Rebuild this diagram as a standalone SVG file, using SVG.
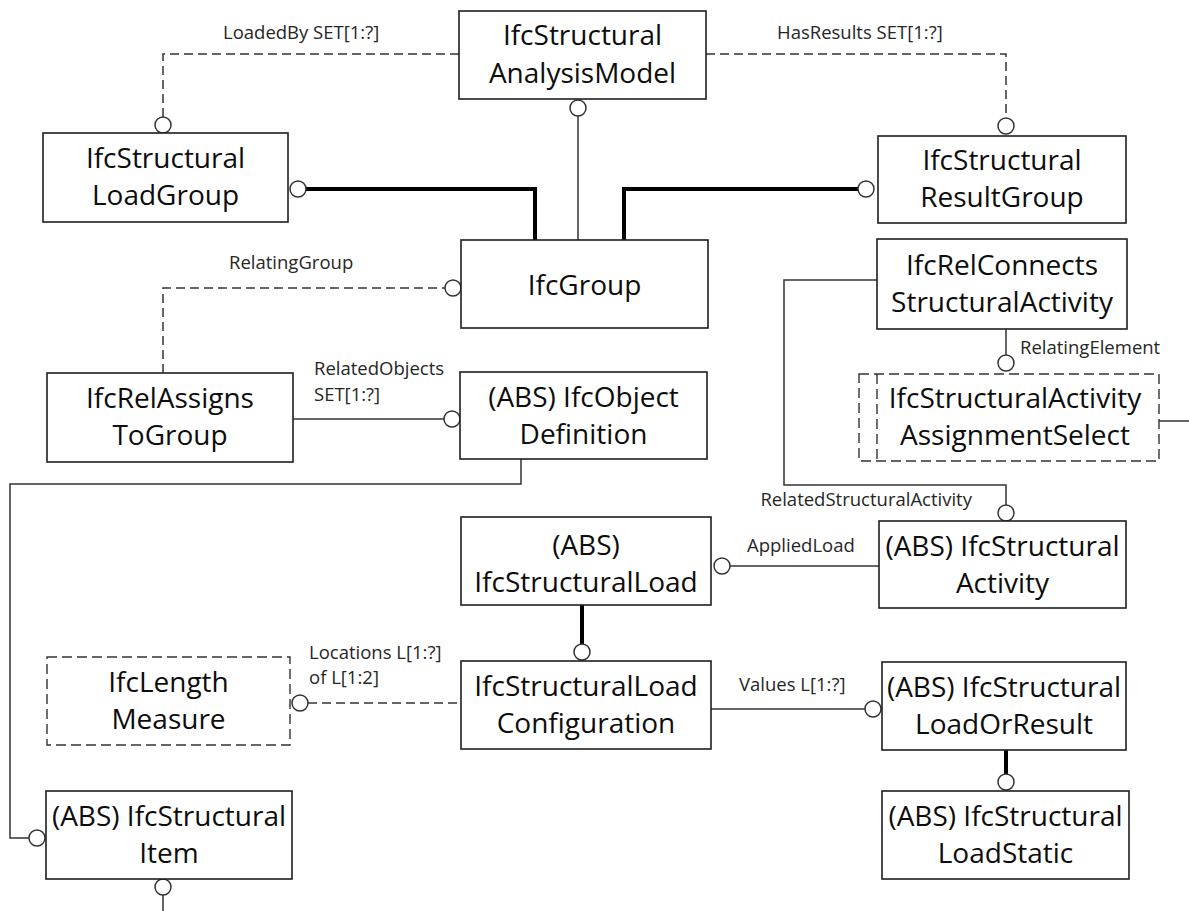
<svg xmlns="http://www.w3.org/2000/svg" width="1189" height="911" viewBox="0 0 1189 911">
<style>
.box{fill:#fff;stroke:#1f1f1f;stroke-width:1.6}
.dbox{fill:#fff;stroke:#333;stroke-width:1.4;stroke-dasharray:10,5}
.t{font-family:"Open Sans","Noto Sans","Liberation Sans",sans-serif;font-size:28px;fill:#0d0d0d;text-anchor:middle}
.lbl{font-family:"Open Sans","Noto Sans","Liberation Sans",sans-serif;font-size:18.5px;fill:#262626}
.ln{fill:none;stroke:#333;stroke-width:1.5}
.dl{fill:none;stroke:#333;stroke-width:1.5;stroke-dasharray:9,5}
.th{fill:none;stroke:#000;stroke-width:4}
.c{fill:#fff;stroke:#333;stroke-width:1.5}
</style>
<rect width="1189" height="911" fill="#fff"/>
<g id="connectors">
  <path class="dl" d="M459,54 H163 V117"/>
  <circle class="c" cx="163" cy="125" r="8"/>
  <text class="lbl" x="223" y="39">LoadedBy SET[1:?]</text>
  <path class="dl" d="M706,54 H1006 V118"/>
  <circle class="c" cx="1006" cy="126" r="8"/>
  <text class="lbl" x="777" y="39">HasResults SET[1:?]</text>
  <path class="ln" d="M578,116 V240"/>
  <circle class="c" cx="578" cy="108" r="8"/>
  <path class="th" d="M306,189 H535 V240"/>
  <circle class="c" cx="298" cy="189" r="8"/>
  <path class="th" d="M858,189 H624 V240"/>
  <circle class="c" cx="866" cy="189" r="8"/>
  <path class="dl" d="M163,373 V288 H445"/>
  <circle class="c" cx="453" cy="288" r="8"/>
  <text class="lbl" x="229" y="269">RelatingGroup</text>
  <path class="ln" d="M293,419 H444"/>
  <circle class="c" cx="452" cy="419" r="8"/>
  <text class="lbl" x="314" y="375">RelatedObjects</text>
  <text class="lbl" x="314" y="401">SET[1:?]</text>
  <path class="ln" d="M521,459 V484 H10 V838 H29"/>
  <circle class="c" cx="37" cy="838" r="8"/>
  <path class="ln" d="M163,895 V911"/>
  <circle class="c" cx="163" cy="887" r="8"/>
  <path class="ln" d="M1006,329 V355"/>
  <circle class="c" cx="1006" cy="363" r="8"/>
  <text class="lbl" x="1020" y="354">RelatingElement</text>
  <path class="ln" d="M1159,421 H1189"/>
  <path class="ln" d="M877,280 H784 V485 H1006 V505"/>
  <circle class="c" cx="1006" cy="513" r="8"/>
  <text class="lbl" x="972" y="506" text-anchor="end">RelatedStructuralActivity</text>
  <path class="ln" d="M730,566 H879"/>
  <circle class="c" cx="722" cy="566" r="8"/>
  <text class="lbl" x="747" y="552">AppliedLoad</text>
  <path class="th" d="M582,605 V644"/>
  <circle class="c" cx="582" cy="652" r="8"/>
  <path class="dl" d="M308,703 H461"/>
  <circle class="c" cx="300" cy="703" r="8"/>
  <text class="lbl" x="309" y="659">Locations L[1:?]</text>
  <text class="lbl" x="309" y="684">of L[1:2]</text>
  <path class="ln" d="M711,709 H865"/>
  <circle class="c" cx="873" cy="709" r="8"/>
  <text class="lbl" x="739" y="691">Values L[1:?]</text>
  <path class="th" d="M1006,750 V774"/>
  <circle class="c" cx="1006" cy="782" r="8"/>
</g>
<g id="IfcStructuralAnalysisModel">
  <rect class="box" x="459" y="11" width="247" height="88"/>
  <text class="t" x="582.5" y="45">IfcStructural</text>
  <text class="t" x="582.5" y="83">AnalysisModel</text>
</g>
<g id="IfcStructuralLoadGroup">
  <rect class="box" x="43" y="133" width="245" height="89"/>
  <text class="t" x="165.5" y="168">IfcStructural</text>
  <text class="t" x="165.5" y="205">LoadGroup</text>
</g>
<g id="IfcStructuralResultGroup">
  <rect class="box" x="878" y="136" width="248" height="87"/>
  <text class="t" x="1002" y="170">IfcStructural</text>
  <text class="t" x="1002" y="207">ResultGroup</text>
</g>
<g id="IfcGroup">
  <rect class="box" x="461" y="240" width="247" height="88"/>
  <text class="t" x="584.5" y="295">IfcGroup</text>
</g>
<g id="IfcRelAssignsToGroup">
  <rect class="box" x="47" y="373" width="246" height="89"/>
  <text class="t" x="170" y="408">IfcRelAssigns</text>
  <text class="t" x="170" y="445">ToGroup</text>
</g>
<g id="IfcObjectDefinition">
  <rect class="box" x="460" y="372" width="247" height="87"/>
  <text class="t" x="583.5" y="407">(ABS) IfcObject</text>
  <text class="t" x="583.5" y="444">Definition</text>
</g>
<g id="IfcRelConnectsStructuralActivity">
  <rect class="box" x="877" y="239" width="250" height="90"/>
  <text class="t" x="1002" y="275">IfcRelConnects</text>
  <text class="t" x="1002" y="312">StructuralActivity</text>
</g>
<g id="IfcStructuralActivityAssignmentSelect">
  <rect class="dbox" x="859" y="374" width="300" height="87"/>
  <line class="dbox" x1="877" y1="374" x2="877" y2="461"/>
  <text class="t" x="1015" y="408">IfcStructuralActivity</text>
  <text class="t" x="1015" y="445">AssignmentSelect</text>
</g>
<g id="IfcLengthMeasure">
  <rect class="dbox" x="47" y="657" width="243" height="88"/>
  <text class="t" x="168.5" y="692">IfcLength</text>
  <text class="t" x="168.5" y="729">Measure</text>
</g>
<g id="IfcStructuralLoad">
  <rect class="box" x="461" y="517" width="250" height="88"/>
  <text class="t" x="586" y="555">(ABS)</text>
  <text class="t" x="586" y="592">IfcStructuralLoad</text>
</g>
<g id="IfcStructuralActivity">
  <rect class="box" x="879" y="521" width="247" height="87"/>
  <text class="t" x="1002.5" y="556">(ABS) IfcStructural</text>
  <text class="t" x="1002.5" y="593">Activity</text>
</g>
<g id="IfcStructuralLoadConfiguration">
  <rect class="box" x="461" y="661" width="250" height="88"/>
  <text class="t" x="586" y="696">IfcStructuralLoad</text>
  <text class="t" x="586" y="733">Configuration</text>
</g>
<g id="IfcStructuralLoadOrResult">
  <rect class="box" x="882" y="662" width="244" height="88"/>
  <text class="t" x="1004" y="697">(ABS) IfcStructural</text>
  <text class="t" x="1004" y="734">LoadOrResult</text>
</g>
<g id="IfcStructuralItem">
  <rect class="box" x="46" y="791" width="246" height="88"/>
  <text class="t" x="169" y="826">(ABS) IfcStructural</text>
  <text class="t" x="169" y="863">Item</text>
</g>
<g id="IfcStructuralLoadStatic">
  <rect class="box" x="882" y="791" width="247" height="88"/>
  <text class="t" x="1005.5" y="826">(ABS) IfcStructural</text>
  <text class="t" x="1005.5" y="863">LoadStatic</text>
</g>
</svg>
